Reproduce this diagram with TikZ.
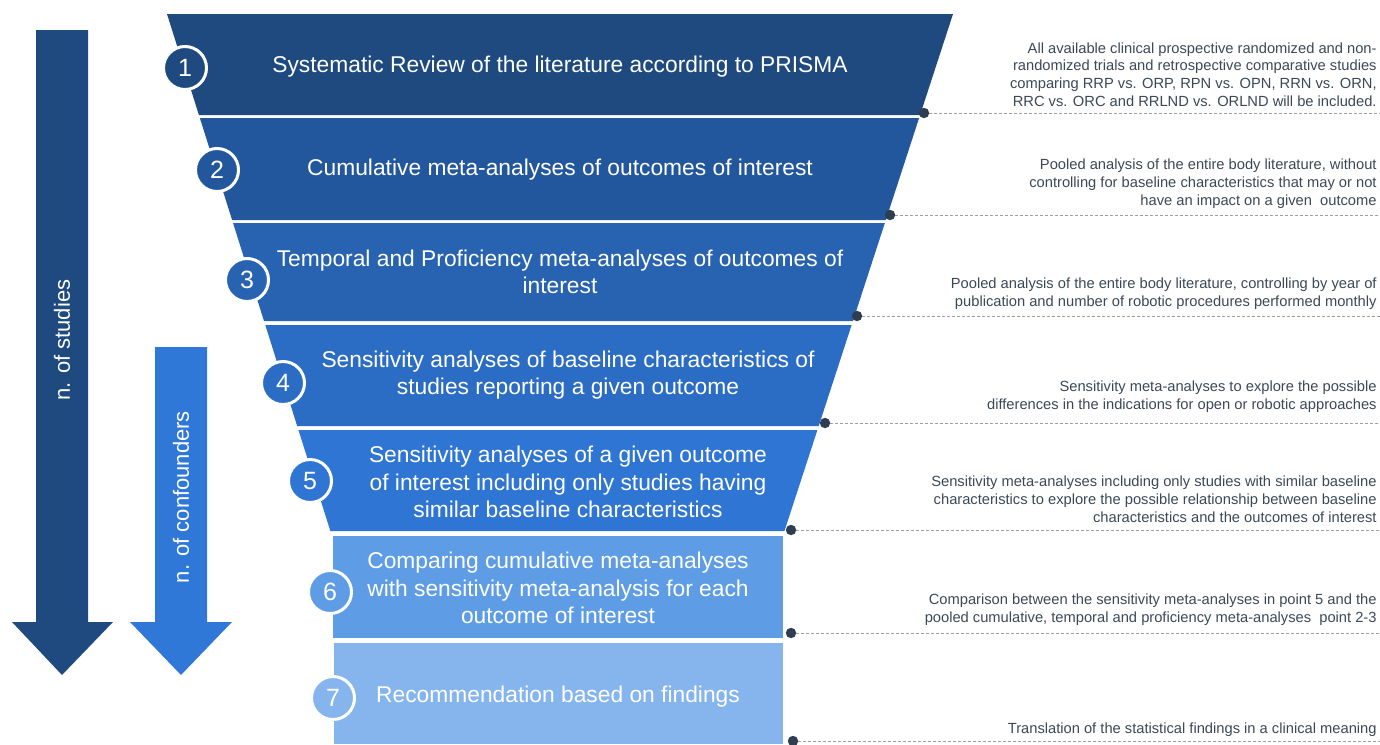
\documentclass[tikz,border=0pt]{standalone}
\usepackage{fontspec}
\setmainfont{Liberation Sans}
\definecolor{c1}{HTML}{1E4A80}
\definecolor{c2}{HTML}{22579D}
\definecolor{c3}{HTML}{2763B0}
\definecolor{c4}{HTML}{2B6CC4}
\definecolor{c5}{HTML}{2F75D3}
\definecolor{c6}{HTML}{5E9DE6}
\definecolor{c7}{HTML}{85B5EC}
\definecolor{arrowb}{HTML}{3078D8}
\definecolor{notec}{HTML}{3B4856}
\definecolor{dotc}{HTML}{2E3E50}
\tikzset{
  steptext/.style={text=white,align=center,font=\fontsize{11.4}{13.6}\selectfont},
  num/.style={circle,draw=white,line width=1.5pt,text=white,minimum size=21.5pt,inner sep=0pt,font=\fontsize{12.5}{12.5}\selectfont},
  note/.style={text=notec,align=right,anchor=south east,inner sep=0pt,font=\fontsize{7.35}{8.9}\selectfont},
  guide/.style={dash pattern=on 1.5pt off 1pt,gray!75,line width=.3pt},
  axlabel/.style={text=white,rotate=90,font=\fontsize{11}{13}\selectfont}
}
\begin{document}
\begin{tikzpicture}[x=.5pt,y=-.5pt,line join=round]
\useasboundingbox (0,0) rectangle (1380,744);
% funnel
\foreach \i/\t/\b in {1/14/115,2/118/220,3/223/321,4/325/426,5/430/531}{
  \pgfmathsetmacro\lt{167+.316*(\t-14)}
  \pgfmathsetmacro\rt{953-.326*(\t-14)}
  \pgfmathsetmacro\lb{167+.316*(\b-14)}
  \pgfmathsetmacro\rb{953-.326*(\b-14)}
  \fill[c\i] (\lt,\t)--(\rt,\t)--(\rb,\b)--(\lb,\b)--cycle;
}
\fill[c6] (333,536) rectangle (783,638);
\fill[c7] (334,643) rectangle (783,744);
% step texts
\node[steptext] (s1) at (560,67) {Systematic Review of the literature according to PRISMA};
\node[steptext] (s2) at (560,170) {Cumulative meta-analyses of outcomes of interest};
\node[steptext] (s3) at (560,272) {Temporal and Proficiency meta-analyses of outcomes of\\interest};
\node[steptext] (s4) at (568,375) {Sensitivity analyses of baseline characteristics of\\studies reporting a given outcome};
\node[steptext] (s5) at (568,482) {Sensitivity analyses of a given outcome\\of interest including only studies having\\similar baseline characteristics};
\node[steptext] (s6) at (558,588) {Comparing cumulative meta-analyses\\with sensitivity meta-analysis for each\\outcome of interest};
\node[steptext] (s7) at (558,697) {Recommendation based on findings};
% numbers
\foreach \i/\x/\y in {1/185/68,2/217/170,3/247/280,4/283/383,5/310/481,6/330/592,7/333/698}
  \node[num,fill=c\i] (n\i) at (\x,\y) {\i};
% side arrows
\fill[c1] (36,30)--(88,30)--(88,622)--(113,622)--(62,675)--(12,622)--(36,622)--cycle;
\node[axlabel] (studies) at (62,340) {n. of studies};
\fill[arrowb] (155,347)--(207,347)--(207,622)--(232,622)--(181,675)--(130,622)--(155,622)--cycle;
\node[axlabel] (conf) at (181,497) {n. of confounders};
% dots and guides
\foreach \i/\x/\y in {1/924/113,2/890/215,3/857/316,4/825/423,5/791/530,6/791/633,7/793/741}{
  \coordinate (d\i) at (\x,\y);
  \coordinate (e\i) at (1380,\y);
  \draw[guide] (d\i)--(e\i);
  \fill[dotc] (d\i) circle (2.6pt);
}
% notes
\node[note] (r1) at (1377,107) {All available clinical prospective randomized and non-\\randomized trials and retrospective comparative studies\\comparing RRP vs. ORP, RPN vs. OPN, RRN vs. ORN,\\RRC vs. ORC and RRLND vs. ORLND will be included.};
\node[note] (r2) at (1377,209) {Pooled analysis of the entire body literature, without\\controlling for baseline characteristics that may or not\\have an impact on a given\ \ outcome};
\node[note] (r3) at (1377,310) {Pooled analysis of the entire body literature, controlling by year of\\publication and number of robotic procedures performed monthly};
\node[note] (r4) at (1377,413) {Sensitivity meta-analyses to explore the possible\\differences in the indications for open or robotic approaches};
\node[note] (r5) at (1377,523) {Sensitivity meta-analyses including only studies with similar baseline\\characteristics to explore the possible relationship between baseline\\characteristics and the outcomes of interest};
\node[note] (r6) at (1377,626) {Comparison between the sensitivity meta-analyses in point 5 and the\\pooled cumulative, temporal and proficiency meta-analyses\ \ point 2-3};
\node[note] (r7) at (1377,737) {Translation of the statistical findings in a clinical meaning};
\end{tikzpicture}
\end{document}
